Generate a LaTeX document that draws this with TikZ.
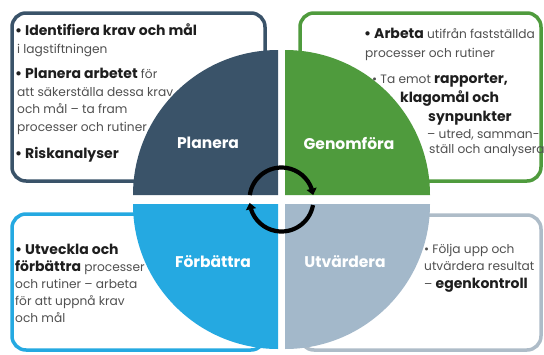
\documentclass[tikz,border=0pt]{standalone}
\usepackage{fontspec}
\setmainfont{Poppins}
\usetikzlibrary{arrows.meta,bending}
\definecolor{cplan}{HTML}{3A5369}
\definecolor{cgen}{HTML}{4F9B3D}
\definecolor{cfor}{HTML}{25A9E1}
\definecolor{cutv}{HTML}{A3B8CA}
\definecolor{cbr}{HTML}{AEBCC8}
\definecolor{ctext}{HTML}{505050}
\definecolor{cbold}{HTML}{1E1E1E}
\newcommand{\bt}[1]{{\fontsize{14}{15}\selectfont\bfseries\color{cbold}#1}}
\begin{document}
\begin{tikzpicture}[x=1pt,y=-1pt,
 boxline/.style={line width=3.5pt, rounded corners=14pt, fill=white},
 ln/.style={anchor=base west, inner sep=0pt, font=\fontsize{12.2}{14}\selectfont, text=ctext},
 lbl/.style={font=\fontsize{15.5}{17}\selectfont\bfseries, text=white, inner sep=0pt},
 ring/.style={line width=4.2pt, -{Triangle[length=6.5pt,width=10pt,flex]}}]
\useasboundingbox (0,0) rectangle (544,354);
\fill[white] (0,0) rectangle (544,354);
% boxes
\draw[boxline, draw=cplan] (12,13) rectangle (265,181);
\draw[boxline, draw=cgen] (300,13) rectangle (541,181);
\draw[boxline, draw=cfor] (12,214) rectangle (265,350);
\draw[boxline, draw=cbr] (300,215) rectangle (541,350);
% top-left text
\node[ln] (tl1) at (15,35) {\bt{• Identifiera krav och mål}};
\node[ln] (tl2) at (17,53) {i lagstiftningen};
\node[ln] (tl3) at (15,78) {\bt{• Planera arbetet} för};
\node[ln] (tl4) at (17,96) {att säkerställa dessa krav};
\node[ln] (tl5) at (17,113) {och mål – ta fram};
\node[ln] (tl6) at (17,131) {processer och rutiner};
\node[ln] (tl7) at (15,158) {\bt{• Riskanalyser}};
% quadrants
\fill[cplan] (278,195) -- (133,195) arc[start angle=180,end angle=270,radius=145] -- cycle;
\fill[cgen] (285,195) -- (285,50) arc[start angle=270,end angle=360,radius=145] -- cycle;
\fill[cfor] (278,204) -- (278,349) arc[start angle=90,end angle=180,radius=145] -- cycle;
\fill[cutv] (285,204) -- (430,204) arc[start angle=0,end angle=90,radius=145] -- cycle;
% labels
\node[lbl] (planera) at (208,143) {Planera};
\node[lbl] (genomfora) at (349,143) {Genomföra};
\node[lbl] (forbattra) at (213,262) {Förbättra};
\node[lbl] (utvardera) at (345,262) {Utvärdera};
% cycle icon
\coordinate (c) at (281.5,199.5);
\draw[ring] (c) ++(188:32) arc[start angle=188,end angle=352,radius=32];
\draw[ring] (c) ++(10:32) arc[start angle=10,end angle=174,radius=32];
% top-right text
\node[ln] (tr1) at (364,38) {\bt{• Arbeta} utifrån fastställda};
\node[ln] (tr2) at (365,57) {processer och rutiner};
\node[ln] (tr3) at (372,83) {• Ta emot \bt{rapporter,}};
\node[ln] (tr4) at (400,102) {\bt{klagomål och}};
\node[ln] (tr5) at (428,121) {\bt{synpunkter}};
\node[ln] (tr6) at (427,138) {– utred, samman-};
\node[ln] (tr7) at (429,153) {ställ och analysera};
% bottom-left text
\node[ln] (bl1) at (15,254) {\bt{• Utveckla och}};
\node[ln] (bl2) at (15,271) {\bt{förbättra} processer};
\node[ln] (bl3) at (15,288) {och rutiner – arbeta};
\node[ln] (bl4) at (15,305) {för att uppnå krav};
\node[ln] (bl5) at (15,322) {och mål};
% bottom-right text
\node[ln] (br1) at (424,253) {• Följa upp och};
\node[ln] (br2) at (424,270) {utvärdera resultat};
\node[ln] (br3) at (424,288) {– \bt{egenkontroll}};
\end{tikzpicture}
\end{document}
